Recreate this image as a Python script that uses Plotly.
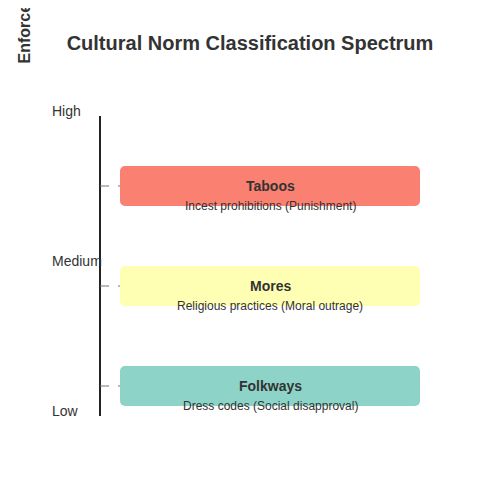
import plotly.graph_objects as go

norms = ["Taboos", "Mores", "Folkways"]
examples = ["Incest prohibitions (Punishment)", "Religious practices (Moral outrage)", "Dress codes (Social disapproval)"]
levels = [2.3, 1.3, 0.3]
colors = ["#fa8072", "#ffffb3", "#8dd3c7"]
tick_vals = [3, 1.5, 0]
tick_text = ["High", "Medium", "Low"]

fig = go.Figure()
fig.add_trace(go.Scatter(x=[100, 100], y=[0, 3], mode="lines", line=dict(color="#222", width=2), hoverinfo="skip"))
for lv in levels:
    fig.add_trace(go.Scatter(x=[100, 120], y=[lv, lv], mode="lines", line=dict(color="#777", width=1.2, dash="dash"), hoverinfo="skip"))
fig.add_trace(go.Bar(y=levels, x=[300]*3, base=120, orientation="h", width=0.4,
                     marker=dict(color=colors, line=dict(width=0), cornerradius=5), hoverinfo="skip"))
for n, e, lv in zip(norms, examples, levels):
    fig.add_annotation(x=270, y=lv, text="<b>%s</b>" % n, showarrow=False, font=dict(size=14, color="#333"))
    fig.add_annotation(x=270, y=lv - 0.2, text=e, showarrow=False, font=dict(size=12, color="#333"))
for v, t in zip(tick_vals, tick_text):
    fig.add_annotation(x=50, y=v + 0.05, text=t, showarrow=False, xanchor="left", font=dict(size=14, color="#333"))
fig.add_annotation(x=24, y=3.5, text="<b>Enforcement Level</b>", textangle=-90, showarrow=False,
                   yanchor="bottom", font=dict(size=16, color="#333"))
fig.update_layout(
    width=500, height=500, margin=dict(l=0, r=0, t=0, b=0),
    paper_bgcolor="white", plot_bgcolor="white", showlegend=False,
    font=dict(family="Liberation Sans, Arial, sans-serif"),
    title=dict(text="<b>Cultural Norm Classification Spectrum</b>", x=0.484, y=0.93, xanchor="center", yanchor="middle",
               font=dict(size=20, color="#333")),
    xaxis=dict(range=[8, 508], visible=False, fixedrange=True),
    yaxis=dict(range=[-0.92, 4.08], visible=False, fixedrange=True),
)
fig.write_html("out.html")
